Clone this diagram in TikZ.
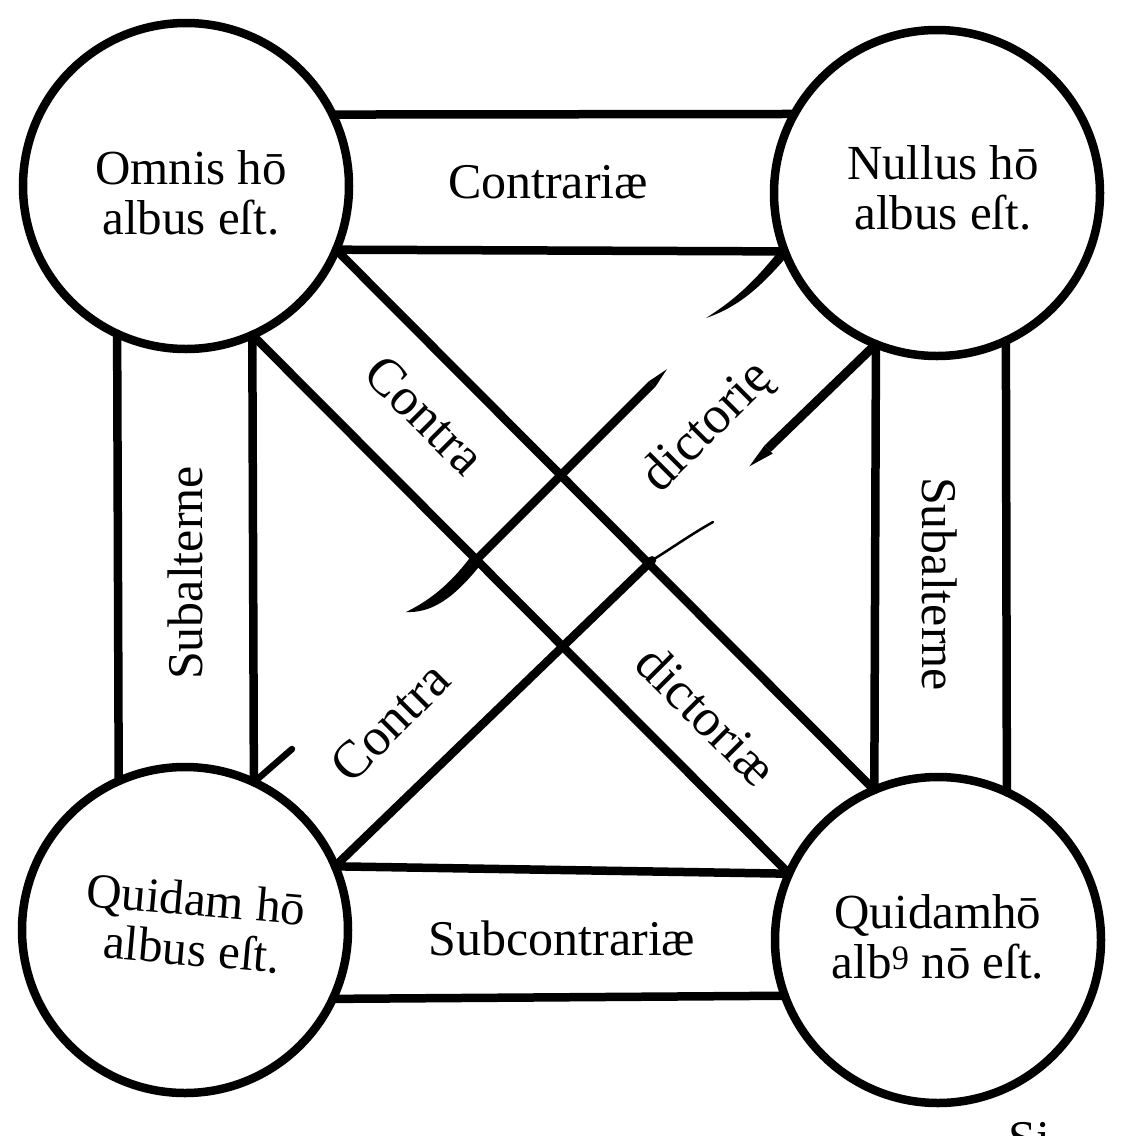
\documentclass[tikz,border=0pt]{standalone}
\usepackage{fontspec}
\setmainfont{Liberation Serif}
\usetikzlibrary{calc}
\begin{document}
\begin{tikzpicture}[x=1pt,y=-1pt,
  ln/.style={line width=8.5pt, line cap=round},
  prop/.style={circle, draw, line width=8.5pt, minimum size=326pt, inner sep=0pt, outer sep=0pt, fill=white},
  lbl/.style={font=\fontsize{50}{50}\selectfont, inner sep=0pt},
  dlbl/.style={font=\fontsize{53}{53}\selectfont, inner sep=0pt},
  ctext/.style={font=\fontsize{49}{50}\selectfont, align=center, inner sep=0pt}]
\useasboundingbox (0,0) rectangle (1125,1136);
\fill[white] (0,0) rectangle (1125,1136);
% propositions
\node[prop] (A) at (186,186) {};
\node[prop] (B) at (937,193) {};
\node[prop] (C) at (185,930) {};
\node[prop] (D) at (938,940) {};
\node[ctext] (tA) at (191,193) {Omnis hō\\albus eſt.};
\node[ctext] (tB) at (943,188) {Nullus hō\\albus eſt.};
\node[ctext, rotate=-5] (tC) at (194,924) {Quidam hō\\albus eſt.};
\node[ctext] (tD) at (938,937) {Quidamhō\\alb\textsuperscript{9} nō eſt.};
% contrariae
\draw[ln] (A.26) -- (B.151);
\draw[ln] (A.-23) -- (B.201);
% subalterne left
\draw[ln] (A.-115) -- (C.114);
\draw[ln] (A.-66) -- (C.65);
\draw[line width=6.5pt, line cap=round] (C.65) -- (292,749);
% subalterne right
\draw[ln] (B.-112) -- (D.113);
\draw[ln] (B.-65) -- (D.65);
% subcontrariae
\draw[ln] (C.23) -- (D.156);
\draw[ln] (C.-25) -- (D.200);
% contradictoriae A-D
\draw[ln] (A.-23) -- (D.113);
\draw[ln] (A.-66) -- (D.156);
% contradictoriae B-C (broken edges)
\coordinate (u0) at (B.201);
\coordinate (u1) at (C.65);
\coordinate (w0) at (B.-112);
\coordinate (w1) at (C.23);
% upper-left edge
\fill ($(u0)+(3.5,3.5)$) .. controls (760,288) and (738,307) .. (706,318)
      .. controls (736,299) and (755,281) .. ($(u0)+(-3.5,-3.5)$) -- cycle;
\draw[ln, line cap=butt] ($(u0)!0.25!(u1)$) -- ($(u0)!0.58!(u1)$);
\fill ($(u0)!0.25!(u1)+(3,3)$) -- ($(u0)!0.222!(u1)$) -- ($(u0)!0.25!(u1)+(-3,-3)$) -- cycle;
\fill (472,555) .. controls (455,578) and (435,598) .. (406,612)
      .. controls (430,613) and (452,601) .. (482,563) -- cycle;
% lower-right edge
\draw[line width=9pt, line cap=butt] (w0) -- ($(w0)!0.2!(w1)$);
\fill ($(w0)!0.2!(w1)+(5,5)$) -- ($(w0)!0.234!(w1)$) -- ($(w0)!0.2!(w1)+(-3.2,-3.2)$) -- cycle;
\draw[line width=2.5pt, line cap=round] ($(w0)!0.414!(w1)$) .. controls (672,548) and (690,535) .. (713,522);
\draw[ln] ($(w0)!0.414!(w1)$) -- (w1);
% labels
\node[lbl] (lbContr) at (548,182) {Contrariæ};
\node[lbl] (lbSub) at (562,938) {Subcontrariæ};
\node[lbl, rotate=90] (lbSL) at (185,573) {Subalterne};
\node[lbl, rotate=-90] (lbSR) at (940,584) {Subalterne};
\node[dlbl, rotate=-45] (lbCa) at (425,415) {Contra};
\node[dlbl, rotate=45] (lbDb) at (708,428) {dictorię};
\node[dlbl, rotate=45] (lbCb) at (390,722) {Contra};
\node[dlbl, rotate=-45] (lbDa) at (707,715) {dictoriæ};
\node[lbl, anchor=north west] (si) at (1008,1122) {Si};
\end{tikzpicture}
\end{document}
